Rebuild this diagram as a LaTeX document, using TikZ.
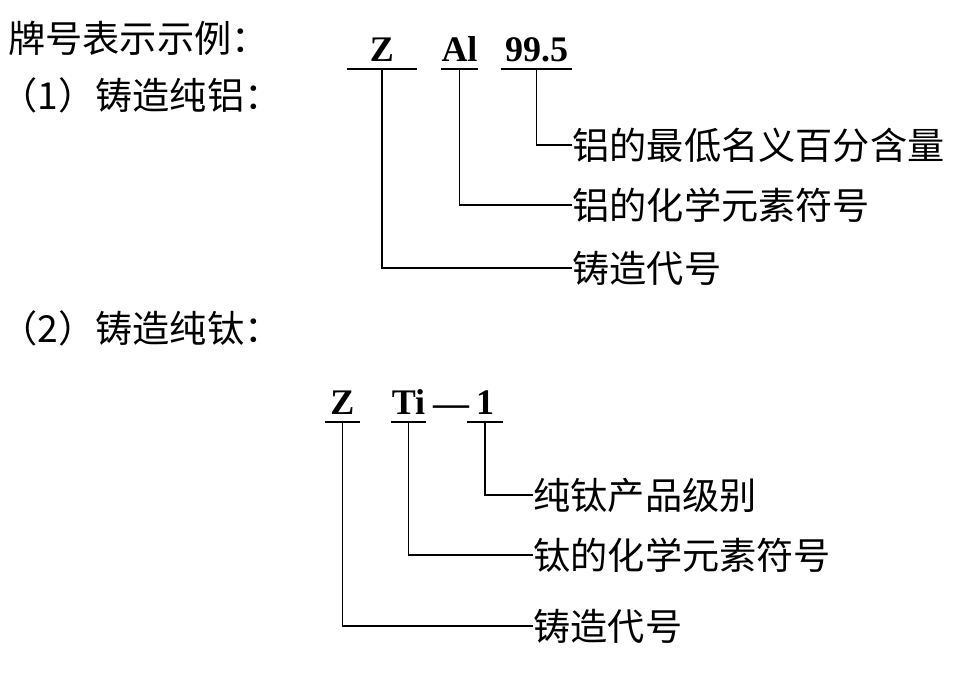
\documentclass[tikz,border=0pt]{standalone}
\usepackage{fontspec}
\setmainfont{Liberation Serif}
\newfontfamily\cjk{Noto Sans CJK SC}
\usepackage{tikz}

\begin{document}
\begin{tikzpicture}[x=0.5pt,y=-0.5pt,
  txt/.style={font=\cjk\fontsize{18.6}{18.6}\selectfont,inner sep=0pt},
  lbl/.style={txt,anchor=west},
  code/.style={font=\bfseries\fontsize{18}{18}\selectfont,anchor=south,
    inner xsep=0pt,inner ysep=3.5pt,text depth=0pt}]
  \useasboundingbox (0,0) rectangle (975,690);
  % Rubriker
  \node[lbl] (t0) at (8,38) {牌号表示示例：};
  \node[lbl] (t1) at (0,95) {（1）铸造纯铝：};
  \node[lbl] (t2) at (0,328) {（2）铸造纯钛：};
  % Exempel 1
  \node[code,minimum width=35pt] (z1) at (382,69) {Z};
  \node[code,minimum width=17.5pt] (al) at (459.5,69) {Al};
  \node[code,minimum width=35.5pt] (nn) at (536.5,69) {99.5};
  \foreach \n/\y/\t in {a1/145/铝的最低名义百分含量,a2/205/铝的化学元素符号,a3/268/铸造代号}
    \node[lbl] (\n) at (572,\y) {\t};
  \foreach \c/\l in {z1/a3,al/a2,nn/a1} {
    \draw[thick] (\c.south west) -- (\c.south east);
    \draw[thick] (\c.south) |- (\l.west);
  }
  % Exempel 2
  \node[code,minimum width=17.5pt] (z2) at (342.5,422) {Z};
  \node[code,minimum width=17.5pt] (ti) at (408.5,422) {Ti};
  \node[code,inner ysep=0pt,anchor=base] (da) at (451,415) {—};
  \node[code,minimum width=18pt] (g1) at (485,422) {1};
  \foreach \n/\y/\t in {b1/495/纯钛产品级别,b2/555/钛的化学元素符号,b3/626/铸造代号}
    \node[lbl] (\n) at (533,\y) {\t};
  \foreach \c/\l in {z2/b3,ti/b2,g1/b1} {
    \draw[thick] (\c.south west) -- (\c.south east);
    \draw[thick] (\c.south) |- (\l.west);
  }
\end{tikzpicture}
\end{document}
